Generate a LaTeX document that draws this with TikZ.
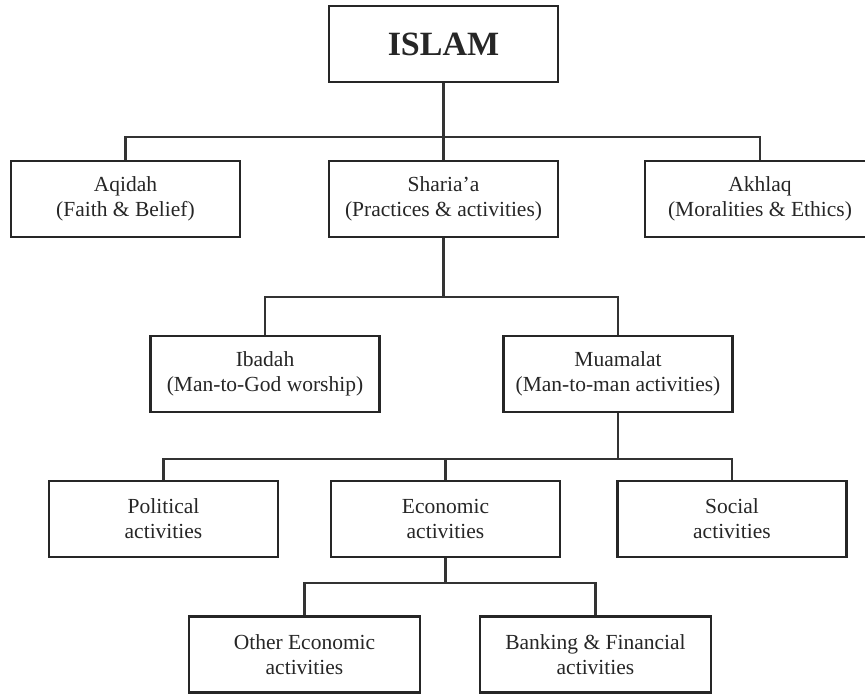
\documentclass[tikz,border=0pt]{standalone}
\usepackage{fontspec}
\setmainfont{Liberation Serif}
\begin{document}
\begin{tikzpicture}[x=1pt,y=-1pt,
  box/.style={draw=black!85, line width=2.4pt, minimum width=229pt, minimum height=76pt,
    inner sep=0pt, align=center, font=\fontsize{21.5}{25}\selectfont, text=black!85},
  link/.style={draw=black!80, line width=2.1pt}]
\useasboundingbox (0,0) rectangle (865,696);
\clip (0,0) rectangle (865,696);
% level 0
\node[box, font=\fontsize{34}{36}\selectfont\bfseries] (islam) at (443.5,44) {ISLAM};
% level 1
\node[box] (aqidah) at (125.5,199) {Aqidah\\(Faith \& Belief)};
\node[box] (sharia) at (443.5,199) {Sharia'a\\(Practices \& activities)};
\node[box, minimum width=230pt] (akhlaq) at (760,199) {Akhlaq\\(Moralities \& Ethics)};
% level 2
\node[box] (ibadah) at (265,374) {Ibadah\\(Man-to-God worship)};
\node[box] (muamalat) at (618,374) {Muamalat\\(Man-to-man activities)};
% level 3
\node[box] (political) at (163.5,519) {Political\\activities};
\node[box] (economic) at (445.5,519) {Economic\\activities};
\node[box] (social) at (732,519) {Social\\activities};
% level 4
\node[box, minimum width=231pt] (other) at (304.5,654.5) {Other Economic\\activities};
\node[box, minimum width=231pt] (banking) at (595.5,654.5) {Banking \& Financial\\activities};
% junctions
\coordinate (j1) at (443.5,137);
\coordinate (j2) at (443.5,297);
\coordinate (j3) at (618,459);
\coordinate (j4) at (445.5,583);
% connectors
\draw[link] (islam.south) -- (j1);
\draw[link] (aqidah.north) |- (j1) -| (akhlaq.north);
\draw[link] (j1) -- (sharia.north);
\draw[link] (sharia.south) -- (j2);
\draw[link] (ibadah.north) |- (j2) -| (muamalat.north);
\draw[link] (muamalat.south) -- (j3);
\draw[link] (political.north) |- (j3) -| (social.north);
\draw[link] (economic.north) -- (economic.north |- j3);
\draw[link] (economic.south) -- (j4);
\draw[link] (other.north) |- (j4) -| (banking.north);
\end{tikzpicture}
\end{document}
